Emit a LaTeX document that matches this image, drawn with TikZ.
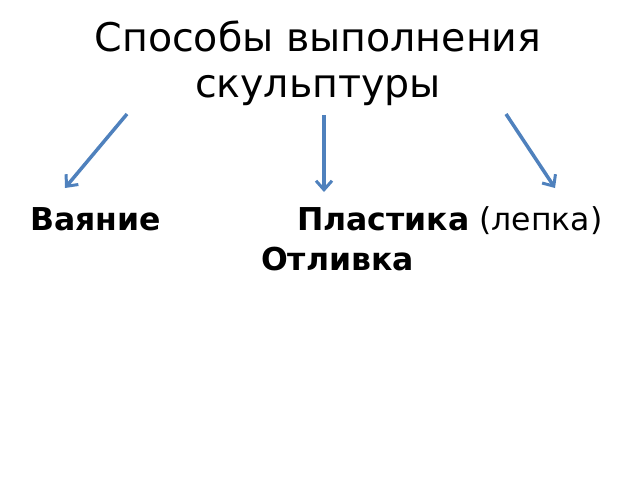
\documentclass[tikz,border=0pt]{standalone}
\usepackage{fontspec}
\setmainfont{DejaVu Sans}
\usetikzlibrary{arrows.meta}
\definecolor{arr}{RGB}{79,129,189}
\begin{document}
\begin{tikzpicture}[x=1pt,y=-1pt,
  arrowline/.style={draw=arr,line width=3.5pt,-{Straight Barb[length=9pt,width=16pt,line width=3pt]}},
  lbl/.style={anchor=base west,inner sep=0pt,font=\fontsize{31.5}{36}\selectfont}]
\useasboundingbox (0,0) rectangle (640,480);
\node[inner sep=0pt,align=center,font=\fontsize{39.5}{46}\selectfont] (title) at (318,63) {Способы выполнения\\скульптуры};
\node[lbl] (v) at (30,230) {\textbf{Ваяние}};
\node[lbl] (p) at (297,230) {\textbf{Пластика} (лепка)};
\node[lbl] (o) at (261,270) {\textbf{Отливка}};
\coordinate (a1s) at (127,114); \coordinate (a1e) at (65,188);
\coordinate (a2s) at (324,115); \coordinate (a2e) at (324,192);
\coordinate (a3s) at (506,114); \coordinate (a3e) at (555,188);
\draw[arrowline] (a1s) -- (a1e);
\draw[arrowline] (a2s) -- (a2e);
\draw[arrowline] (a3s) -- (a3e);
\end{tikzpicture}
\end{document}
